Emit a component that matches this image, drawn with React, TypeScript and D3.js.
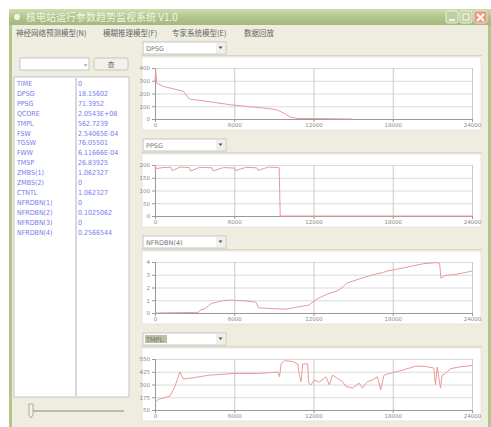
import React, { useEffect, useRef } from "react";
import * as d3 from "d3";

const titleText = "核电站运行参数趋势监视系统 V1.0";
const menuItems = ["神经网络预测模型(N)", "模糊推理模型(F)", "专家系统模型(E)", "数据回放"];
const buttonText = "查";

const varNames = ["TIME", "DPSG", "PPSG", "QCORE", "TMPL", "FSW", "TGSW", "FWW", "TMSP", "ZMBS(1)", "ZMBS(2)", "CTNTL", "NFRDBN(1)", "NFRDBN(2)", "NFRDBN(3)", "NFRDBN(4)"];
const varValues = ["0", "18.15602", "71.3952", "2.0543E+08", "562.7239", "2.54065E-04", "76.05501", "6.11666E-04", "26.83925", "1.062327", "0", "1.062327", "0", "0.1025062", "0", "0.2566544"];

const comboLabels = ["DPSG", "PPSG", "NFRDBN(4)", "TMPL"];
const xTicks = [0, 6000, 12000, 18000, 24000];

// chart 1
const t1 = [0, 50, 126, 632, 1642, 2147, 2526, 2779, 3158, 4421, 5684, 6947, 8211, 9221, 9726, 10232, 10737, 12253, 14905];
const v1 = [295, 392, 282, 256, 230, 217, 165, 152, 150, 131, 112, 99, 86, 73, 47, 16, 5, 3, 0];
const y1Ticks = [0, 100, 200, 300, 400];

// chart 2
const t2 = [0, 40, 90, 600, 1200, 1300, 1900, 2600, 2700, 3400, 4300, 4400, 5200, 6000, 6100, 6900, 7700, 7800, 8600, 9300, 9400, 9480, 24000];
const v2 = [178, 198, 186, 190, 191, 178, 192, 190, 176, 191, 189, 177, 190, 188, 178, 191, 189, 179, 192, 190, 189, 0, 0];
const y2Ticks = [0, 50, 100, 150, 200];

// chart 3
const t3 = [0, 3284, 3461, 3789, 4042, 4295, 4724, 5053, 5684, 6695, 7655, 7832, 8716, 9979, 10737, 11621, 12253, 13011, 13768, 14147, 14526, 15284, 16295, 17305, 17558, 18316, 19326, 20337, 21347, 21549, 21650, 21979, 22863, 24000];
const v3 = [0, 0.05, 0.25, 0.33, 0.56, 0.76, 0.86, 0.96, 1.01, 0.96, 0.84, 0.41, 0.35, 0.3, 0.46, 0.61, 1.09, 1.47, 1.72, 1.97, 2.35, 2.61, 2.94, 3.19, 3.29, 3.44, 3.65, 3.87, 3.95, 3.87, 2.73, 2.94, 3.04, 3.29];
const y3Ticks = [0, 1, 2, 3, 4];

// chart 4
const t4 = [0, 251, 880, 1131, 1508, 1885, 2136, 2890, 4147, 5906, 7916, 9298, 9424, 9550, 9801, 10429, 10806, 10932, 11058, 11183, 11560, 11636, 11812, 12063, 12440, 12942, 13194, 13445, 13822, 14199, 14450, 14953, 15455, 15707, 16084, 16461, 16838, 17089, 17340, 17969, 18723, 19728, 20482, 21110, 21236, 21361, 21613, 21738, 21990, 22367, 22995, 24000];
const v4 = [123, 154, 177, 186, 281, 423, 354, 366, 392, 408, 408, 423, 376, 502, 534, 525, 502, 392, 328, 502, 502, 313, 297, 344, 322, 376, 297, 392, 360, 328, 281, 265, 313, 265, 328, 344, 376, 249, 392, 417, 439, 480, 477, 461, 297, 471, 265, 392, 408, 455, 471, 487];
const y4Ticks = [50, 175, 300, 425, 550];

const charts = [
  { t: t1, v: v1, yTicks: y1Ticks },
  { t: t2, v: v2, yTicks: y2Ticks },
  { t: t3, v: v3, yTicks: y3Ticks },
  { t: t4, v: v4, yTicks: y4Ticks },
];

const CJK = "'Noto Sans CJK SC', 'Noto Sans', sans-serif";
const SANS = "'DejaVu Sans', sans-serif";
const COND = "'DejaVu Sans Condensed', 'Liberation Sans Narrow', 'DejaVu Sans', sans-serif";

export default function App() {
  const ref = useRef<SVGGElement>(null);

  useEffect(() => {
    const g = d3.select(ref.current);
    g.selectAll("*").remove();

    charts.forEach((c, i) => {
      const top = 57 + i * 97;
      const plotTop = top + 11;
      const plotBottom = top + 62;
      const x = d3.scaleLinear().domain([0, 24000]).range([155, 472]);
      const y = d3
        .scaleLinear()
        .domain([c.yTicks[0], c.yTicks[c.yTicks.length - 1]])
        .range([plotBottom, plotTop]);

      const cg = g.append("g");

      // horizontal grid
      cg.append("g")
        .attr("transform", "translate(155,0)")
        .call(d3.axisLeft(y).tickValues(c.yTicks).tickSize(-317).tickFormat(() => ""))
        .call((s) => s.select(".domain").remove())
        .selectAll("line")
        .attr("stroke", "#dadada");

      // vertical grid
      cg.append("g")
        .attr("transform", `translate(0,${plotTop})`)
        .call(d3.axisBottom(x).tickValues(xTicks).tickSize(plotBottom - plotTop).tickFormat(() => ""))
        .call((s) => s.select(".domain").remove())
        .selectAll("line")
        .attr("stroke", "#cacaca");

      // axes
      const ya = cg
        .append("g")
        .attr("transform", "translate(155,0)")
        .call(d3.axisLeft(y).tickValues(c.yTicks).tickSize(3).tickPadding(2).tickFormat(d3.format("~g")));
      ya.select(".domain").attr("stroke", "#999");
      ya.selectAll("line").attr("stroke", "#999");
      ya.selectAll("text").attr("font-size", 5.5).attr("fill", "#888").attr("font-family", SANS);

      const xa = cg
        .append("g")
        .attr("transform", `translate(0,${plotBottom})`)
        .call(d3.axisBottom(x).tickValues(xTicks).tickSize(3).tickPadding(1).tickFormat(d3.format("d")));
      xa.select(".domain").attr("stroke", "#999");
      xa.selectAll("line").attr("stroke", "#999");
      xa.selectAll("text").attr("font-size", 5.5).attr("fill", "#888").attr("font-family", SANS);

      const line = d3
        .line<number>()
        .x((_, k) => x(c.t[k]))
        .y((d) => y(d));

      cg.append("path")
        .datum(c.v)
        .attr("d", line)
        .attr("fill", "none")
        .attr("stroke", "#e99a9a")
        .attr("stroke-width", 1);
    });
  }, []);

  return (
    <div style={{ position: "absolute", left: 0, top: 0 }}>
      <svg width={491} height={427} style={{ display: "block" }}>
        <defs>
          <linearGradient id="tb" x1="0" y1="0" x2="0" y2="1">
            <stop offset="0" stopColor="#cfdcb0" />
            <stop offset="0.5" stopColor="#b2c68c" />
            <stop offset="1" stopColor="#a2b87c" />
          </linearGradient>
        </defs>
        <rect x={0} y={0} width={491} height={427} fill="#ffffff" />
        {/* window frame */}
        <rect x={9} y={9} width={482} height={418} fill="#b2c68c" />
        <rect x={9} y={9} width={482} height={16} fill="url(#tb)" />
        <rect x={12} y={25} width={476} height={402} fill="#efeddf" />
        <text x={26} y={21} fontSize={10} fill="#f1f5e6" fontFamily={CJK}>{titleText}</text>
        <circle cx={17} cy={17} r={3} fill="#f1f5e6" />
        {/* title buttons */}
        <rect x={446} y={11} width={12} height={12} rx={2} fill="#bfcfa3" stroke="#eaf0de" />
        <rect x={460} y={11} width={12} height={12} rx={2} fill="#bfcfa3" stroke="#eaf0de" />
        <rect x={474} y={11} width={13} height={12} rx={2} fill="#eb9a7c" stroke="#f4d8c8" />
        <line x1={449} y1={20} x2={455} y2={20} stroke="#ffffff" strokeWidth={1.5} />
        <rect x={463} y={14} width={6} height={6} fill="none" stroke="#ffffff" />
        <path d="M477,14 L484,21 M484,14 L477,21" stroke="#ffffff" strokeWidth={2} />

        {/* menu */}
        {menuItems.map((m, i) => (
          <text key={m} x={[16, 103, 172, 244][i]} y={36} fontSize={7.5} fill="#666" fontFamily={CJK}>{m}</text>
        ))}

        {/* left panel */}
        <rect x={20} y={58} width={69} height={12} fill="#fff" stroke="#c2c5cc" />
        <text x={84} y={67} fontSize={6} fill="#aaa" fontFamily={SANS}>▾</text>
        <rect x={94} y={58} width={34} height={12} rx={2} fill="#f3f2ea" stroke="#c8c6b8" />
        <text x={111} y={67} fontSize={7} fill="#666" textAnchor="middle" fontFamily={CJK}>{buttonText}</text>

        <rect x={14} y={77} width={115} height={320} fill="#fff" stroke="#c2c5cc" />
        <line x1={76} y1={78} x2={76} y2={396} stroke="#b0b0b0" />
        {varNames.map((n, i) => (
          <text key={"n" + i} x={17} y={86 + i * 9.9} fontSize={7} fill="#7878f0" fontFamily={COND}>{n}</text>
        ))}
        {varValues.map((v, i) => (
          <text key={"v" + i} x={78} y={86 + i * 9.9} fontSize={7} fill="#7878f0" fontFamily={COND}>{v}</text>
        ))}

        {/* slider */}
        <line x1={30} y1={411} x2={124} y2={411} stroke="#bcbaac" strokeWidth={2} />
        <path d="M29,404 L33,404 L33,415 L31,418 L29,415 Z" fill="#f4f3ee" stroke="#acaa9c" />

        {/* chart panels */}
        {charts.map((_, i) => {
          const top = 57 + i * 97;
          return (
            <g key={"p" + i}>
              <rect x={143} y={top - 15} width={83} height={12} fill="#fff" stroke="#c2c5cc" />
              {i === 3 && <rect x={145} y={top - 13} width={22} height={8} fill="#bcbf9e" />}
              <text x={146} y={top - 6} fontSize={6.5} fill="#777" fontFamily={SANS}>{comboLabels[i]}</text>
              <rect x={216} y={top - 14} width={9} height={10} fill="#f1efe6" />
              <path d={`M218.5,${top - 10.5} L222.5,${top - 10.5} L220.5,${top - 8} Z`} fill="#555" />
              <line x1={141} y1={top - 1.5} x2={482} y2={top - 1.5} stroke="#d8d5c6" />
              <rect x={142} y={top} width={339} height={73} fill="#fff" stroke="#e6e4da" />
            </g>
          );
        })}
        <g ref={ref} />
      </svg>
    </div>
  );
}
